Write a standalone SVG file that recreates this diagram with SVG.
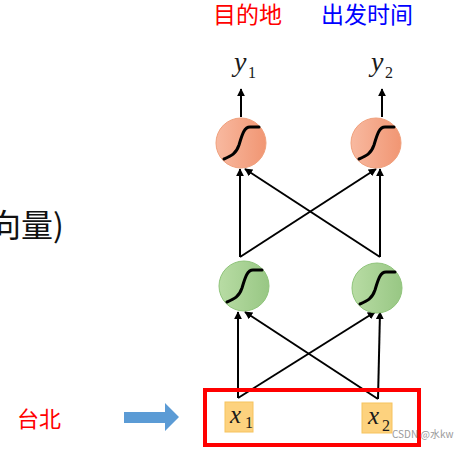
<svg xmlns="http://www.w3.org/2000/svg" width="461" height="449" viewBox="0 0 461 449">
<style>
.cjk{font-family:"Noto Sans CJK SC","Noto Sans",sans-serif;}
.math{font-family:"Liberation Serif","DejaVu Serif",serif;fill:#1a1a1a;}
.edge{stroke:#000;stroke-width:2;fill:none;marker-end:url(#ah);}
.sig{stroke:#000;stroke-width:3;fill:none;stroke-linecap:round;}
.out{fill:url(#og);stroke:#f0a07c;stroke-width:1;}
.hid{fill:url(#gg);stroke:#8fc47a;stroke-width:1;}
.inp{fill:#fdd27e;stroke:#f6c35e;stroke-width:1;}
</style>
<defs>
<marker id="ah" viewBox="0 0 10 10" refX="9" refY="5" markerWidth="4" markerHeight="4" orient="auto" markerUnits="strokeWidth">
<path d="M0,0 L10,5 L0,10 z" fill="#000"/>
</marker>
<linearGradient id="og" x1="0" y1="0" x2="1" y2="0">
<stop offset="0" stop-color="#f8b9a0"/>
<stop offset="1" stop-color="#f19673"/>
</linearGradient>
<linearGradient id="gg" x1="0" y1="0" x2="1" y2="0">
<stop offset="0" stop-color="#b8dca4"/>
<stop offset="1" stop-color="#98c784"/>
</linearGradient>
<path id="sg" d="M-17,16 C-10,13 -5,11 -2,2 C1,-8 3,-16 9,-16 L18,-16"/>
</defs>
<rect width="461" height="449" fill="#fff"/>

<g id="label-dest"><text class="cjk" x="213" y="23" font-size="23" fill="#ff0000">目的地</text></g>
<g id="label-time"><text class="cjk" x="321" y="23" font-size="23" fill="#0000ff">出发时间</text></g>
<g id="label-vec"><text class="cjk" x="-11" y="237" font-size="32" fill="#111">向量)</text></g>
<g id="label-taipei"><text class="cjk" x="17" y="427" font-size="22" fill="#ff0000">台北</text></g>

<g id="y1"><text class="math" x="234" y="71" font-size="28" font-style="italic">y</text><text class="math" x="248" y="78" font-size="16">1</text></g>
<g id="y2"><text class="math" x="371" y="71" font-size="28" font-style="italic">y</text><text class="math" x="385" y="78" font-size="16">2</text></g>

<g id="connectors">
<line class="edge" x1="241" y1="117" x2="241" y2="89"/>
<line class="edge" x1="382" y1="117" x2="382" y2="89"/>
<line class="edge" x1="240" y1="257" x2="240" y2="169"/>
<line class="edge" x1="240" y1="257" x2="376" y2="169"/>
<line class="edge" x1="380" y1="257" x2="245" y2="169"/>
<line class="edge" x1="380" y1="257" x2="380" y2="169"/>
<line class="edge" x1="238" y1="398" x2="238" y2="312"/>
<line class="edge" x1="238" y1="398" x2="375" y2="312"/>
<line class="edge" x1="378" y1="399" x2="245" y2="312"/>
<line class="edge" x1="378" y1="399" x2="380" y2="312"/>
</g>

<g id="out1"><circle class="out" cx="241" cy="143" r="25"/><use href="#sg" class="sig" transform="translate(241,143)"/></g>
<g id="out2"><circle class="out" cx="376" cy="143" r="25"/><use href="#sg" class="sig" transform="translate(376,143)"/></g>
<g id="hid1"><circle class="hid" cx="244" cy="286" r="25"/><use href="#sg" class="sig" transform="translate(244,286)"/></g>
<g id="hid2"><circle class="hid" cx="377" cy="288" r="25"/><use href="#sg" class="sig" transform="translate(377,288)"/></g>

<g id="x1"><rect class="inp" x="225" y="402" width="28" height="30"/><text class="math" x="230" y="423" font-size="25" font-style="italic">x</text><text class="math" x="245" y="428" font-size="16">1</text></g>
<g id="x2"><rect class="inp" x="362" y="403" width="30" height="30"/><text class="math" x="368" y="424" font-size="25" font-style="italic">x</text><text class="math" x="382" y="431" font-size="16">2</text></g>

<g id="input-box"><rect x="205" y="390" width="214" height="55" fill="none" stroke="#ff0000" stroke-width="4"/></g>

<g id="blue-arrow"><path d="M124,412 L165,412 L165,403 L179,417 L165,431 L165,423 L124,423 z" fill="#5b9bd5"/></g>

<g id="watermark"><text x="392" y="438" font-family="'Noto Sans CJK SC','Liberation Sans',sans-serif" font-size="10" fill="#9a9a9a">CSDN @水kw</text></g>
</svg>
